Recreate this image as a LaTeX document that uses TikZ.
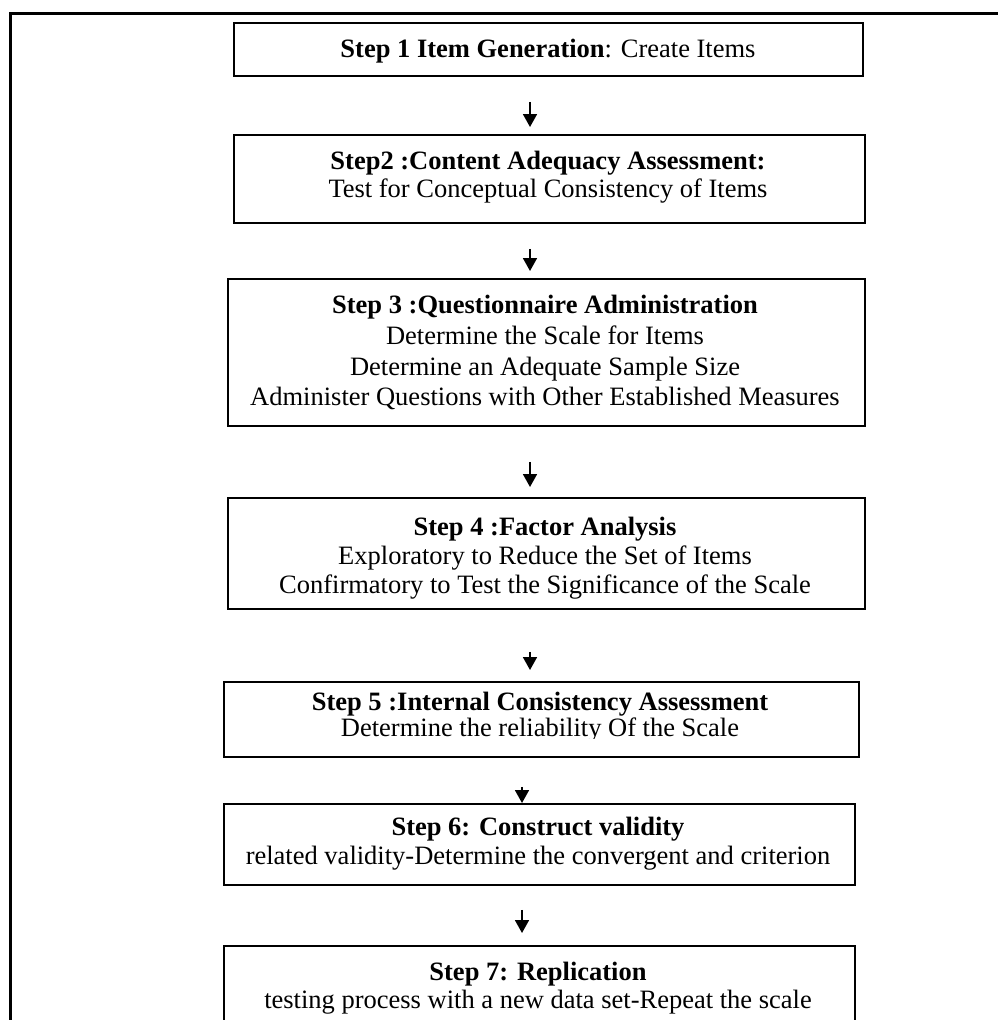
\documentclass[tikz,border=0pt]{standalone}
\usepackage{fontspec}
\setmainfont{Liberation Serif}
\usetikzlibrary{arrows.meta}
\begin{document}
\begin{tikzpicture}[x=1pt,y=-1pt,
  box/.style={draw, line width=1.8pt, inner sep=0pt, anchor=north west},
  txt/.style={inner sep=0pt, anchor=base, font=\fontsize{26.5}{30}\selectfont},
  arr/.style={line width=1.8pt, -{Triangle[width=14pt,length=13pt]}}
]
\useasboundingbox (0,0) rectangle (998,1020);
\draw[line width=3pt] (10,1025) -- (10,13) -- (1003,13);

% boxes
\node[box, minimum width=629pt, minimum height=53pt]  (b1) at (233,22) {};
\node[box, minimum width=631pt, minimum height=88pt]  (b2) at (233,134) {};
\node[box, minimum width=637pt, minimum height=147pt] (b3) at (227,278) {};
\node[box, minimum width=637pt, minimum height=111pt] (b4) at (227,497) {};
\node[box, minimum width=635pt, minimum height=75pt]  (b5) at (223,681) {};
\node[box, minimum width=631pt, minimum height=81pt]  (b6) at (223,803) {};
\node[box, minimum width=631pt, minimum height=120pt] (b7) at (223,945) {};

% texts
\node[txt] (t1) at (548,57) {\textbf{Step 1 Item Generation}: Create Items};
\node[txt] (t2a) at (548,169) {\textbf{Step2 :Content Adequacy Assessment:}};
\node[txt] (t2b) at (548,197) {Test for Conceptual Consistency of Items};
\node[txt] (t3a) at (545,313) {\textbf{Step 3 :Questionnaire Administration}};
\node[txt] (t3b) at (545,344) {Determine the Scale for Items};
\node[txt] (t3c) at (545,375) {Determine an Adequate Sample Size};
\node[txt] (t3d) at (545,405) {Administer Questions with Other Established Measures};
\node[txt] (t4a) at (545,535) {\textbf{Step 4 :Factor Analysis}};
\node[txt] (t4b) at (545,564) {Exploratory to Reduce the Set of Items};
\node[txt] (t4c) at (545,593) {Confirmatory to Test the Significance of the Scale};
\node[txt] (t5a) at (540,710) {\textbf{Step 5 :Internal Consistency Assessment}};
\begin{scope}
\clip (223,700) rectangle (858,738);
\node[txt] (t5b) at (540,736) {Determine the reliability Of the Scale};
\end{scope}
\node[txt] (t6a) at (538,835) {\textbf{Step 6: Construct validity}};
\node[txt] (t6b) at (538,864) {related validity-Determine the convergent and criterion};
\node[txt] (t7a) at (538,980) {\textbf{Step 7: Replication}};
\node[txt] (t7b) at (538,1008) {testing process with a new data set-Repeat the scale};

% arrows
\coordinate (ax) at (530,0);
\coordinate (bx) at (522,0);
\draw[arr, shorten <=25pt, shorten >=7pt]  (b1.south -| ax) -- (b2.north -| ax);
\draw[arr, shorten <=25pt, shorten >=7pt]  (b2.south -| ax) -- (b3.north -| ax);
\draw[arr, shorten <=35pt, shorten >=10pt] (b3.south -| ax) -- (b4.north -| ax);
\draw[arr, shorten <=42pt, shorten >=11pt] (b4.south -| ax) -- (b5.north -| ax);
\draw[arr, shorten <=29pt, shorten >=0pt]  (b5.south -| bx) -- (b6.north -| bx);
\draw[arr, shorten <=24pt, shorten >=12pt] (b6.south -| bx) -- (b7.north -| bx);
\end{tikzpicture}
\end{document}
